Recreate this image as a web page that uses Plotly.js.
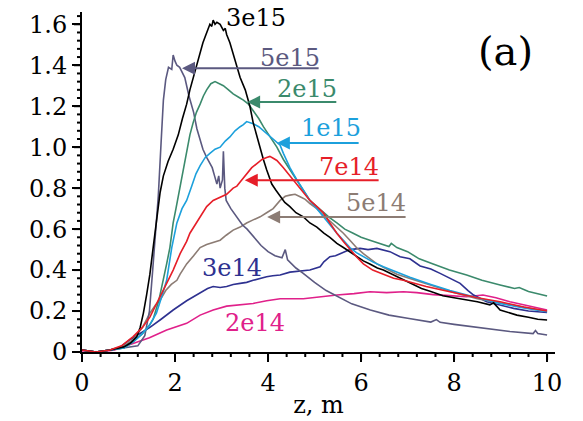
<!DOCTYPE html>
<html>
<head>
<meta charset="utf-8">
<script src="https://cdn.plot.ly/plotly-3.0.1.min.js"></script>
<style>html,body{margin:0;padding:0;background:#fff;}#chart{width:583px;height:421px;}</style>
</head>
<body>
<div id="chart"></div>
<script>
// ---- data (z in m, intensity) ----
const seriesNames = ["5e15", "3e15", "2e15", "1e15", "7e14", "5e14", "3e14", "2e14"];

const z5e15 = [0, 0.3, 0.6, 0.9, 1.2, 1.35, 1.45, 1.52, 1.58, 1.64, 1.7, 1.75, 1.8, 1.86, 1.93, 1.96, 2.0, 2.04, 2.1, 2.14, 2.21, 2.3, 2.4, 2.47, 2.54, 2.6, 2.68, 2.75, 2.8, 2.85, 2.9, 2.94, 2.97, 3.02, 3.04, 3.07, 3.1, 3.2, 3.33, 3.45, 3.55, 3.7, 3.85, 4.0, 4.15, 4.3, 4.37, 4.42, 4.6, 4.75, 5.0, 5.25, 5.5, 5.8, 6.2, 6.6, 7.0, 7.5, 7.62, 7.7, 8.0, 8.6, 9.2, 9.7, 9.75, 9.8, 10.0];
const v5e15 = [0.01, 0.0, 0.01, 0.02, 0.03, 0.08, 0.2, 0.4, 0.6, 0.76, 1.02, 1.23, 1.33, 1.39, 1.38, 1.45, 1.42, 1.40, 1.39, 1.37, 1.34, 1.25, 1.17, 1.09, 1.03, 0.99, 0.95, 0.92, 0.90, 0.86, 0.82, 0.86, 0.80, 0.84, 0.98, 0.80, 0.74, 0.70, 0.66, 0.62, 0.60, 0.56, 0.52, 0.49, 0.47, 0.46, 0.50, 0.45, 0.41, 0.385, 0.34, 0.30, 0.27, 0.235, 0.205, 0.18, 0.165, 0.146, 0.158, 0.145, 0.135, 0.117, 0.10, 0.09, 0.105, 0.09, 0.083];

const z3e15 = [0, 0.3, 0.6, 0.9, 1.05, 1.18, 1.25, 1.32, 1.39, 1.46, 1.53, 1.61, 1.68, 1.75, 1.85, 1.96, 2.07, 2.16, 2.25, 2.32, 2.39, 2.46, 2.54, 2.6, 2.65, 2.7, 2.75, 2.79, 2.82, 2.86, 2.9, 2.97, 3.04, 3.08, 3.11, 3.18, 3.24, 3.29, 3.35, 3.4, 3.51, 3.61, 3.68, 3.76, 3.83, 3.9, 3.97, 4.08, 4.17, 4.26, 4.36, 4.47, 4.6, 4.76, 4.9, 5.05, 5.2, 5.33, 5.48, 5.62, 5.76, 5.91, 6.05, 6.19, 6.35, 6.48, 6.62, 6.77, 7.0, 7.3, 7.5, 7.76, 8.0, 8.27, 8.5, 8.77, 8.85, 8.99, 9.2, 9.35, 9.6, 9.8, 10.0];
const v3e15 = [0.01, 0.0, 0.01, 0.025, 0.045, 0.075, 0.12, 0.19, 0.28, 0.38, 0.51, 0.66, 0.78, 0.86, 0.93, 0.99, 1.06, 1.14, 1.21, 1.28, 1.34, 1.40, 1.46, 1.51, 1.54, 1.57, 1.60, 1.59, 1.62, 1.60, 1.61, 1.60, 1.57, 1.58, 1.55, 1.51, 1.46, 1.42, 1.38, 1.34, 1.28, 1.20, 1.12, 1.05, 0.99, 0.94, 0.89, 0.82, 0.79, 0.76, 0.73, 0.71, 0.68, 0.66, 0.63, 0.61, 0.58, 0.56, 0.53, 0.51, 0.49, 0.465, 0.445, 0.43, 0.41, 0.40, 0.385, 0.37, 0.345, 0.31, 0.295, 0.275, 0.265, 0.254, 0.245, 0.23, 0.24, 0.205, 0.19, 0.18, 0.17, 0.16, 0.156];

const z2e15 = [0, 0.3, 0.6, 0.9, 1.1, 1.3, 1.45, 1.53, 1.65, 1.75, 1.82, 1.89, 1.96, 2.02, 2.07, 2.11, 2.18, 2.25, 2.32, 2.39, 2.46, 2.54, 2.61, 2.68, 2.77, 2.86, 2.95, 3.04, 3.15, 3.25, 3.36, 3.47, 3.58, 3.68, 3.8, 3.9, 4.04, 4.19, 4.33, 4.47, 4.62, 4.76, 4.9, 5.05, 5.19, 5.33, 5.48, 5.65, 5.83, 6.0, 6.19, 6.4, 6.6, 6.65, 6.77, 7.0, 7.25, 7.55, 7.9, 8.27, 8.6, 8.99, 9.3, 9.4, 9.6, 10.0];
const v2e15 = [0.01, 0.0, 0.01, 0.02, 0.05, 0.09, 0.13, 0.16, 0.25, 0.35, 0.43, 0.51, 0.63, 0.70, 0.76, 0.81, 0.90, 0.985, 1.06, 1.12, 1.17, 1.21, 1.25, 1.28, 1.31, 1.32, 1.31, 1.30, 1.28, 1.26, 1.245, 1.23, 1.21, 1.18, 1.14, 1.10, 1.05, 1.00, 0.94, 0.89, 0.84, 0.79, 0.74, 0.71, 0.68, 0.655, 0.63, 0.60, 0.58, 0.56, 0.546, 0.53, 0.515, 0.53, 0.51, 0.49, 0.455, 0.43, 0.40, 0.376, 0.35, 0.327, 0.31, 0.315, 0.295, 0.273];

const z1e15 = [0, 0.3, 0.6, 0.9, 1.1, 1.3, 1.45, 1.6, 1.7, 1.82, 1.93, 2.04, 2.15, 2.25, 2.36, 2.45, 2.54, 2.65, 2.75, 2.86, 2.97, 3.08, 3.18, 3.29, 3.4, 3.47, 3.54, 3.6, 3.68, 3.8, 3.9, 3.97, 4.1, 4.26, 4.33, 4.47, 4.62, 4.76, 4.9, 5.05, 5.19, 5.33, 5.48, 5.62, 5.76, 5.9, 6.05, 6.25, 6.48, 6.75, 7.05, 7.5, 7.91, 8.5, 8.99, 9.5, 10.0];
const v1e15 = [0.01, 0.0, 0.01, 0.02, 0.05, 0.09, 0.13, 0.19, 0.26, 0.35, 0.51, 0.63, 0.70, 0.74, 0.81, 0.87, 0.91, 0.95, 0.97, 0.99, 1.00, 1.03, 1.05, 1.08, 1.10, 1.11, 1.125, 1.12, 1.115, 1.10, 1.08, 1.07, 1.04, 1.01, 0.97, 0.90, 0.84, 0.79, 0.74, 0.70, 0.66, 0.62, 0.58, 0.545, 0.51, 0.485, 0.465, 0.44, 0.416, 0.39, 0.365, 0.33, 0.30, 0.265, 0.237, 0.215, 0.197];

const z7e14 = [0, 0.3, 0.6, 0.85, 1.1, 1.3, 1.46, 1.6, 1.7, 1.82, 1.96, 2.11, 2.25, 2.32, 2.43, 2.54, 2.68, 2.82, 2.97, 3.11, 3.25, 3.33, 3.4, 3.54, 3.65, 3.76, 3.87, 3.97, 4.04, 4.12, 4.19, 4.33, 4.47, 4.62, 4.76, 4.9, 5.05, 5.19, 5.33, 5.48, 5.62, 5.76, 5.9, 6.05, 6.25, 6.48, 6.7, 6.91, 7.4, 7.91, 8.5, 8.99, 9.5, 10.0];
const v7e14 = [0.01, 0.0, 0.01, 0.03, 0.075, 0.12, 0.17, 0.23, 0.28, 0.335, 0.40, 0.48, 0.54, 0.58, 0.62, 0.66, 0.71, 0.74, 0.755, 0.77, 0.80, 0.81, 0.83, 0.87, 0.90, 0.92, 0.94, 0.95, 0.955, 0.945, 0.935, 0.90, 0.86, 0.82, 0.78, 0.74, 0.71, 0.68, 0.63, 0.58, 0.54, 0.50, 0.465, 0.43, 0.40, 0.38, 0.36, 0.35, 0.32, 0.294, 0.265, 0.245, 0.22, 0.20];

const z5e14 = [0, 0.3, 0.6, 0.9, 1.1, 1.3, 1.46, 1.58, 1.68, 1.8, 1.92, 2.04, 2.11, 2.25, 2.4, 2.54, 2.68, 2.82, 2.97, 3.1, 3.25, 3.4, 3.54, 3.68, 3.83, 3.97, 4.11, 4.26, 4.37, 4.47, 4.58, 4.69, 4.8, 4.9, 5.05, 5.19, 5.33, 5.48, 5.62, 5.76, 5.9, 6.05, 6.2, 6.34, 6.55, 6.77, 7.1, 7.5, 8.0, 8.5, 9.0, 9.5, 10.0];
const v5e14 = [0.01, 0.0, 0.01, 0.03, 0.06, 0.12, 0.19, 0.23, 0.254, 0.30, 0.33, 0.35, 0.38, 0.43, 0.47, 0.51, 0.525, 0.535, 0.546, 0.57, 0.595, 0.61, 0.63, 0.645, 0.66, 0.68, 0.70, 0.74, 0.76, 0.766, 0.77, 0.758, 0.745, 0.725, 0.70, 0.668, 0.64, 0.61, 0.58, 0.546, 0.51, 0.48, 0.455, 0.43, 0.405, 0.38, 0.355, 0.325, 0.29, 0.26, 0.24, 0.22, 0.198];

const z3e14 = [0, 0.3, 0.6, 0.8, 1.03, 1.2, 1.46, 1.7, 1.96, 2.25, 2.54, 2.7, 2.82, 2.97, 3.11, 3.25, 3.4, 3.54, 3.68, 3.83, 3.97, 4.1, 4.26, 4.47, 4.7, 4.9, 5.12, 5.2, 5.33, 5.45, 5.55, 5.76, 5.98, 6.15, 6.34, 6.62, 6.84, 7.05, 7.27, 7.5, 7.7, 7.9, 8.13, 8.3, 8.42, 8.7, 9.0, 9.28, 9.6, 10.0];
const v3e14 = [0.01, 0.0, 0.01, 0.02, 0.06, 0.085, 0.12, 0.16, 0.205, 0.25, 0.286, 0.31, 0.32, 0.315, 0.32, 0.33, 0.335, 0.34, 0.35, 0.36, 0.367, 0.372, 0.376, 0.39, 0.395, 0.40, 0.416, 0.44, 0.465, 0.47, 0.48, 0.50, 0.506, 0.50, 0.506, 0.49, 0.465, 0.455, 0.42, 0.405, 0.384, 0.36, 0.335, 0.30, 0.278, 0.245, 0.228, 0.213, 0.20, 0.193];

const z2e14 = [0, 0.39, 0.7, 1.1, 1.45, 1.82, 2.05, 2.25, 2.54, 2.82, 3.11, 3.4, 3.68, 3.97, 4.26, 4.76, 5.1, 5.48, 5.85, 6.19, 6.55, 6.91, 7.2, 7.55, 7.9, 8.27, 8.62, 8.9, 9.2, 9.6, 10.0];
const v2e14 = [0.0, 0.0, 0.01, 0.04, 0.07, 0.107, 0.125, 0.14, 0.18, 0.205, 0.224, 0.23, 0.237, 0.25, 0.26, 0.26, 0.27, 0.278, 0.285, 0.294, 0.29, 0.294, 0.29, 0.28, 0.275, 0.27, 0.278, 0.265, 0.245, 0.225, 0.205];

// tick labels (major) — minor ticks fall between them
const xTickVals = [0, 2, 4, 6, 8, 10];
const xTickText = ["0", "2", "4", "6", "8", "10"];
const yTickVals = [0, 0.2, 0.4, 0.6, 0.8, 1.0, 1.2, 1.4, 1.6];
const yTickText = ["0", "0.2", "0.4", "0.6", "0.8", "1.0", "1.2", "1.4", "1.6"];
const minorPerMajor = 5;

// ---- styling ----
const colors = {
  "5e15": "#5b5980", "3e15": "#000000", "2e15": "#3b8a6c", "1e15": "#1ca0dc",
  "7e14": "#e61e28", "5e14": "#8c7c74", "3e14": "#2e3190", "2e14": "#e0208a"
};
const xs = {"5e15": z5e15, "3e15": z3e15, "2e15": z2e15, "1e15": z1e15, "7e14": z7e14, "5e14": z5e14, "3e14": z3e14, "2e14": z2e14};
const ys = {"5e15": v5e15, "3e15": v3e15, "2e15": v2e15, "1e15": v1e15, "7e14": v7e14, "5e14": v5e14, "3e14": v3e14, "2e14": v2e14};

const drawOrder = ["2e14", "3e14", "5e14", "5e15", "2e15", "1e15", "3e15", "7e14"];
const traces = drawOrder.map(n => ({
  x: xs[n], y: ys[n], type: "scatter", mode: "lines", name: n,
  line: {color: colors[n], width: 1.6}, hoverinfo: "skip"
}));

const FONT = "DejaVu Serif";
const W = 583, H = 421, M = {l: 82, r: 28, t: 12, b: 69};
const plotW = W - M.l - M.r, plotH = H - M.t - M.b;
const X_MAX = 10.17, Y_MAX = 1.66;

// tick marks drawn as shapes anchored to the axes (majors long, minors short)
const shapes = [];
function tickShapesX(vals) {
  const step = (vals[1] - vals[0]) / minorPerMajor;
  vals.forEach(v => {
    for (let k = 0; k < minorPerMajor; k++) {
      const t = v + k * step;
      if (t > X_MAX) break;
      const len = (k === 0 ? 8 : 5) / plotH;
      shapes.push({type: "line", xref: "x", yref: "paper", x0: t, x1: t, y0: 0, y1: -len,
        line: {color: "#000", width: 2}, layer: "above"});
    }
  });
}
function tickShapesY(vals) {
  const step = (vals[1] - vals[0]) / minorPerMajor;
  vals.forEach(v => {
    for (let k = 0; k < minorPerMajor; k++) {
      const t = v + k * step;
      if (t > Y_MAX) break;
      const len = (k === 0 ? 8 : 5) / plotW;
      shapes.push({type: "line", xref: "paper", yref: "y", x0: 0, x1: -len, y0: t, y1: t,
        line: {color: "#000", width: 2}, layer: "above"});
    }
  });
}
tickShapesX(xTickVals);
tickShapesY(yTickVals);

// label placements
const labelPos = {
  "3e15": [3.74, 1.63], "5e15": [4.47, 1.434], "2e15": [4.84, 1.283], "1e15": [5.35, 1.093],
  "7e14": [5.73, 0.902], "5e14": [6.32, 0.727], "3e14": [3.23, 0.41], "2e14": [3.72, 0.14]
};
// arrows: [headX, tailX, y]
const arrowPos = {
  "5e15": [2.15, 5.12, 1.385], "2e15": [3.55, 5.5, 1.22], "1e15": [4.19, 5.98, 1.02],
  "7e14": [3.5, 6.41, 0.839], "5e14": [3.98, 6.99, 0.659]
};

const annotations = [];
seriesNames.forEach(n => {
  const p = labelPos[n];
  annotations.push({x: p[0], y: p[1], xref: "x", yref: "y", text: n, showarrow: false,
    xanchor: "center", yanchor: "middle", font: {family: FONT, size: 24, color: colors[n]}});
  if (arrowPos[n]) {
    const a = arrowPos[n];
    annotations.push({x: a[0], y: a[2], ax: a[1], ay: a[2], xref: "x", yref: "y", axref: "x", ayref: "y",
      text: "", showarrow: true, arrowhead: 2, arrowsize: 1.3, arrowwidth: 2, arrowcolor: colors[n], standoff: 0});
  }
});
annotations.push({x: 9.1, y: 1.47, xref: "x", yref: "y", text: "(a)", showarrow: false,
  xanchor: "center", yanchor: "middle", font: {family: FONT, size: 40, color: "#000"}});

const layout = {
  width: W, height: H,
  margin: M,
  paper_bgcolor: "#fff", plot_bgcolor: "#fff",
  showlegend: false,
  font: {family: FONT, size: 24, color: "#000"},
  xaxis: {
    range: [0, X_MAX], tickmode: "array", tickvals: xTickVals, ticktext: xTickText,
    showline: true, linecolor: "#000", linewidth: 2, showgrid: false, zeroline: false,
    ticks: "outside", ticklen: 8, tickwidth: 2, tickcolor: "#000",
    tickfont: {family: FONT, size: 24, color: "#000"},
    title: {text: "z, m", font: {family: FONT, size: 24, color: "#000"}, standoff: 0},
    automargin: false
  },
  yaxis: {
    range: [0, Y_MAX], tickmode: "array", tickvals: yTickVals, ticktext: yTickText,
    showline: true, linecolor: "#000", linewidth: 2, showgrid: false, zeroline: false,
    ticks: "outside", ticklen: 8, tickwidth: 2, tickcolor: "#000",
    tickfont: {family: FONT, size: 24, color: "#000"},
    automargin: false
  },
  shapes: shapes,
  annotations: annotations
};

Plotly.newPlot("chart", traces, layout, {staticPlot: true, displayModeBar: false});
</script>
</body>
</html>
